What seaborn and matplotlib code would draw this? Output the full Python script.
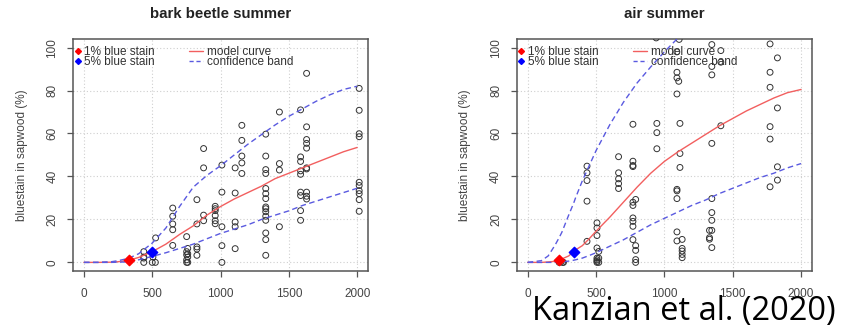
import matplotlib
matplotlib.use("Agg")
import matplotlib.pyplot as plt
from matplotlib.lines import Line2D
import pandas as pd
import seaborn as sns

# bark beetle summer: observed bluestain (%) by x position
beetle_cols = [438, 500, 505, 523, 525, 650, 752, 760, 827, 876, 961, 1010, 1107, 1156,
               1331, 1431, 1586, 1630, 2015]
beetle_vals = [
    [5, 2.5, 2, 0],
    [0],
    [2.5],
    [0],
    [11.4],
    [25.3, 21.5, 17.9, 15.2, 7.9],
    [12, 5, 3.5, 1.2, 0],
    [6.5, 4, 2.5, 0],
    [29.2, 17.9, 7.2, 6.2, 3.3],
    [53, 44, 22, 19.4],
    [26.1, 25, 24.1, 21.8, 19.4, 18],
    [45.3, 32.7, 16.6, 7.8, 0],
    [44, 32.3, 18.8, 16.6, 6.4],
    [63.8, 56.8, 49.5, 46.3, 41.4],
    [59.7, 49.5, 43.2, 41.4, 34.4, 32, 29.7, 25.8, 25, 23.6, 21.5, 19.6, 13.7, 10.6, 3.3],
    [70, 46, 43, 16.6],
    [71, 49.1, 47, 42.6, 41, 32.7, 31.1, 24.1, 19.6],
    [88, 63.1, 57.2, 55.4, 53.2, 44, 43.5, 32.7, 30.8, 29.5],
    [81, 70.8, 59.9, 58.5, 37.3, 35.8, 33.4, 32, 29.2, 23.8],
]
beetle_curve_x = [0, 100, 200, 250, 300, 330, 400, 500, 600, 700, 800, 900, 1000, 1100, 1200,
                  1300, 1400, 1500, 1600, 1700, 1800, 1900, 2000]
beetle_model = [0, 0, 0.1, 0.3, 0.7, 1, 2.3, 5, 8.5, 13, 17, 22, 26, 29.5, 32.5,
                35.5, 39, 41.5, 44, 46.5, 49, 51.5, 53.5]
beetle_upper = [0, 0, 0.3, 0.8, 1.5, 2, 4, 9, 16, 26, 35, 40.5, 45, 50, 55,
                59.5, 64, 68, 71.5, 75, 78, 80.5, 82]
beetle_lower = [0, 0, 0, 0.1, 0.2, 0.3, 1.2, 2.8, 4.5, 6.5, 8.5, 11, 13.5, 15.5, 17.5,
                20, 22, 24, 26.5, 28.5, 30.5, 32.5, 34.5]
beetle_marks = [(330, 1), (500, 5)]  # 1% and 5% blue stain

# air summer
air_cols = [230, 245, 255, 262, 434, 507, 520, 665, 770, 790, 940, 945, 1091, 1092, 1105,
            1108, 1114, 1130, 1330, 1347, 1413, 1773, 1827]
air_vals = [
    [0],
    [0.4],
    [0],
    [0],
    [44.8, 41.7, 38.1, 28.5, 9.8],
    [18.4, 16, 12.5, 6.7, 2, 1.2, 0.5, 0],
    [5.1, 2, 0],
    [49.2, 41.7, 38.9, 36.7, 34.4],
    [64.3, 47.1, 45.1, 44.6, 28, 26.5, 20.7, 19.1, 16.8, 10.6],
    [29.3, 7.8, 5.6, 1.3, 0],
    [104.5],
    [64.7, 60.4, 52.9],
    [98],
    [88.5, 85.9, 78.4, 34, 33.3, 29.7, 14.2, 10],
    [84.3],
    [103.8],
    [64.7, 50.7, 44.2],
    [10.7, 6.5, 5.3, 3.7, 2.2],
    [14.9, 11.5, 10.8],
    [101.4, 91.2, 87.3, 55.4, 29.7, 23.2, 19.6, 14.9, 6.9],
    [98.6, 93.2, 63.6],
    [101.7, 88.5, 81.5, 63.2, 57.4, 35.2],
    [95.2, 71.9, 44.5, 38.3],
]
air_curve_x = [0, 100, 150, 200, 230, 250, 300, 336, 350, 400, 450, 500, 600, 700, 800, 900,
               1000, 1100, 1200, 1300, 1400, 1500, 1600, 1700, 1800, 1900, 2000]
air_model = [0, 0, 0.2, 0.5, 1, 1.6, 3, 5, 5.8, 7.8, 11, 14.5, 21, 28, 35, 41.5,
             47, 51.5, 55.5, 59.5, 63.5, 67, 70.5, 73.5, 76.5, 79, 80.5]
air_upper = [0, 0.8, 3, 8, 11.5, 14, 22, 27.5, 30, 38, 45, 52, 64, 74.5, 83.5, 91,
             98, 104.5, 110, 115, 120, 124, 128, 131, 134, 137, 140]
air_lower = [0, 0, 0, 0, 0.1, 0.2, 0.6, 1, 1.2, 2, 3.2, 4.5, 7.5, 10.5, 14, 17.5,
             20.5, 23.5, 26.5, 29, 32, 34.5, 37, 39.5, 41.5, 44, 46]
air_marks = [(230, 1), (336, 5)]

panels = [
    ("bark beetle summer", beetle_cols, beetle_vals, beetle_curve_x,
     beetle_model, beetle_upper, beetle_lower, beetle_marks),
    ("air summer", air_cols, air_vals, air_curve_x,
     air_model, air_upper, air_lower, air_marks),
]

sns.set_style("ticks")
plt.rcParams["font.family"] = ["Liberation Sans", "DejaVu Sans"]

fig = plt.figure(figsize=(8.51, 3.27), dpi=100)
axes_boxes = [[0.0858, 0.1713, 0.3467, 0.7095], [0.6072, 0.1713, 0.347, 0.7095]]
ylabel_x = [22 / 851, 465 / 851]

red_c = "#f25f5f"
blue_c = "#5a5ae0"
frame_c = "#555555"
legend_kw = dict(loc="upper left", frameon=False, fontsize=8.5, borderpad=0,
                 borderaxespad=0, labelspacing=-0.2, labelcolor="#333333")

for box, lab_x, (title, cols, vals, cx, model, upper, lower, marks) in zip(
        axes_boxes, ylabel_x, panels):
    ax = fig.add_axes(box)
    pts = pd.DataFrame(
        [(c, v) for c, vs in zip(cols, vals) for v in vs], columns=["x", "y"]
    )
    curves = pd.DataFrame({"x": cx, "model": model, "upper": upper, "lower": lower})

    # R-style dotted grid at the tick marks
    ax.grid(True, color="#cfcfcf", linestyle=(0, (1, 2)), linewidth=0.8)
    ax.set_axisbelow(True)

    sns.scatterplot(data=pts, x="x", y="y", ax=ax, s=18, marker="o",
                    facecolor="none", edgecolor="#333333", linewidth=0.7, zorder=3)
    sns.lineplot(data=curves, x="x", y="model", ax=ax, color=red_c,
                 linewidth=1.0, estimator=None, sort=False, zorder=4)
    for col in ["upper", "lower"]:
        sns.lineplot(data=curves, x="x", y=col, ax=ax, color=blue_c,
                     linewidth=1.0, linestyle=(0, (4, 2.5)),
                     estimator=None, sort=False, zorder=4)
    ax.scatter([marks[0][0]], [marks[0][1]], marker="D", s=28, color="red",
               edgecolor="red", zorder=5)
    ax.scatter([marks[1][0]], [marks[1][1]], marker="D", s=28, color="blue",
               edgecolor="blue", zorder=5)

    ax.set_xlim(-80, 2080)
    ax.set_ylim(-4, 104)
    ax.set_xticks([0, 500, 1000, 1500, 2000])
    ax.set_yticks([0, 20, 40, 60, 80, 100])
    ax.set_xlabel("")
    ax.set_ylabel("")
    ax.tick_params(axis="x", length=4, width=0.9, color=frame_c, pad=8.5,
                   labelsize=8.5, labelcolor="#444444")
    ax.tick_params(axis="y", length=4, width=0.9, color=frame_c, pad=6.5,
                   labelsize=8.5, labelcolor="#444444")
    for t in ax.get_yticklabels():
        t.set_rotation(90)
        t.set_va("center")
    for sp in ax.spines.values():
        sp.set_color(frame_c)
        sp.set_linewidth(1.1)

    ax.set_title(title, fontsize=10.8, fontweight="bold", color="#222222", pad=15)
    fig.text(lab_x, 0.1713 + 0.7095 / 2, "bluestain in sapwood (%)", rotation=90,
             ha="center", va="center", fontsize=8.5, color="#444444")

    # two legend blocks side by side, like R's legend(ncol = 2)
    pt_handles = [
        Line2D([], [], marker="D", color="red", linestyle="none", markersize=3),
        Line2D([], [], marker="D", color="blue", linestyle="none", markersize=3),
    ]
    leg1 = ax.legend(pt_handles, ["1% blue stain", "5% blue stain"],
                     bbox_to_anchor=(0.006, 0.968), handlelength=0.5,
                     handletextpad=0.3, **legend_kw)
    ax.add_artist(leg1)
    ln_handles = [
        Line2D([], [], color=red_c, linewidth=1.0),
        Line2D([], [], color=blue_c, linewidth=1.0, linestyle=(0, (3, 2))),
    ]
    ax.legend(ln_handles, ["model curve", "confidence band"],
              bbox_to_anchor=(0.393, 0.968), handlelength=1.2,
              handletextpad=0.35, **legend_kw)

fig.text(531.7 / 851, 1 - 320 / 327, "Kanzian et al. (2020)", fontsize=23.5,
         family="Open Sans", color="black", ha="left", va="baseline")

fig.savefig("out.png", dpi=100)
